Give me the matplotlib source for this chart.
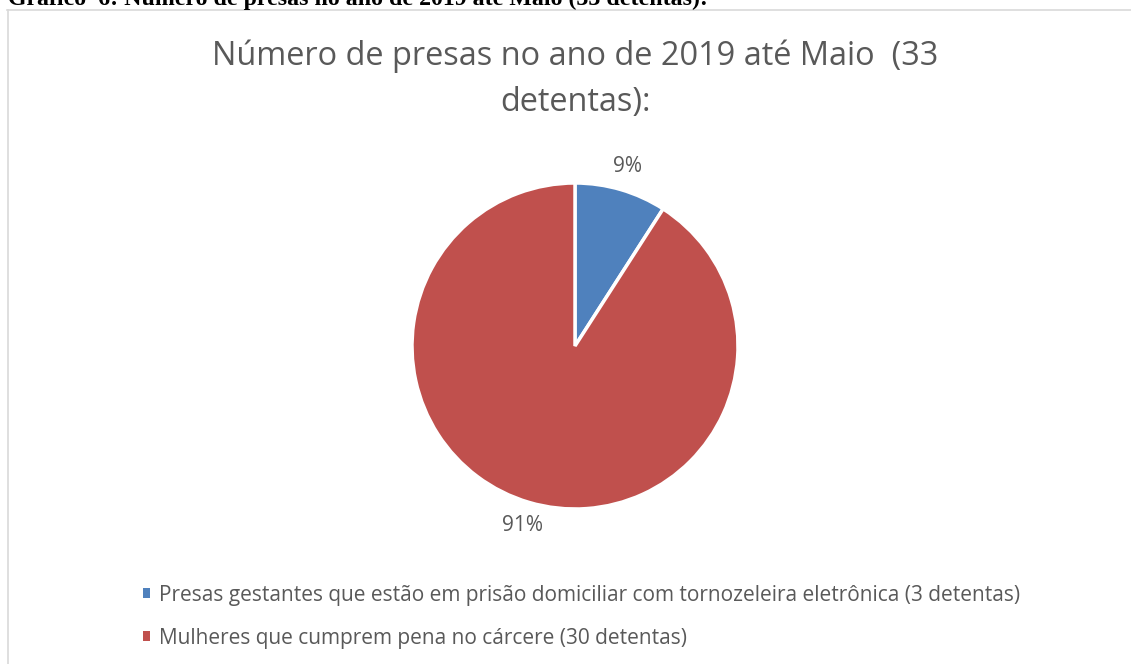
import matplotlib.pyplot as plt
from matplotlib.lines import Line2D

# Chart data
categories = ['Presas gestantes que estão em prisão domiciliar com tornozeleira eletrônica (3 detentas)',
              'Mulheres que cumprem pena no cárcere (30 detentas)']
counts = [3, 30]
colors = ['#4F81BD', '#C0504D']
title = 'Número de presas no ano de 2019 até Maio  (33\ndetentas):'
caption = 'Gráfico  6: Número de presas no ano de 2019 até Maio (33 detentas):'

W, H = 1131, 664
fig = plt.figure(figsize=(W / 100, H / 100), dpi=100)
fig.patch.set_facecolor('white')


def fx(px):
    return px / W


def fy(py):
    return 1 - py / H


# Chart frame (light gray border, cropped on right/bottom)
fig.add_artist(Line2D([fx(7), fx(W + 5)], [fy(9.5), fy(9.5)], color='#d9d9d9', linewidth=1.2,
                      transform=fig.transFigure))
fig.add_artist(Line2D([fx(7.5), fx(7.5)], [fy(9.5), fy(H + 5)], color='#d9d9d9', linewidth=1.2,
                      transform=fig.transFigure))

# Cropped caption from the document above the chart
fig.text(fx(8), fy(5), caption, family='Liberation Serif', fontweight='bold', fontsize=17.2,
         color='black', ha='left', va='baseline')

# Title
fig.text(fx(575), fy(79), title, family='Open Sans', fontsize=23.4, color='#595959',
         ha='center', va='center', linespacing=1.5)

# Pie
cx, cy, r = 575, 346, 163
ax = fig.add_axes([fx(cx - r), fy(cy + r), 2 * r / W, 2 * r / H])
total = sum(counts)
pct_labels = [f'{round(c / total * 100)}%' for c in counts]
wedges, texts = ax.pie(counts, colors=colors, startangle=90, counterclock=False,
                       labels=pct_labels, labeldistance=1.15,
                       wedgeprops=dict(edgecolor='white', linewidth=2.5),
                       textprops=dict(family='Open Sans', fontsize=15, color='#595959'))
for t in texts:
    t.set_horizontalalignment('center')
ax.set_xlim(-1, 1)
ax.set_ylim(-1, 1)
ax.set_aspect('equal')
ax.axis('off')

# Legend
leg = fig.legend(wedges, categories, loc='upper left', bbox_to_anchor=(fx(124), fy(566)),
                 frameon=False, handlelength=0.37, handleheight=0.37, handletextpad=0.4,
                 labelspacing=1.05, prop=dict(family='Open Sans', size=15))
for t in leg.get_texts():
    t.set_color('#595959')
for h in leg.legend_handles:
    h.set_edgecolor('none')

fig.savefig('out.png', dpi=100)
